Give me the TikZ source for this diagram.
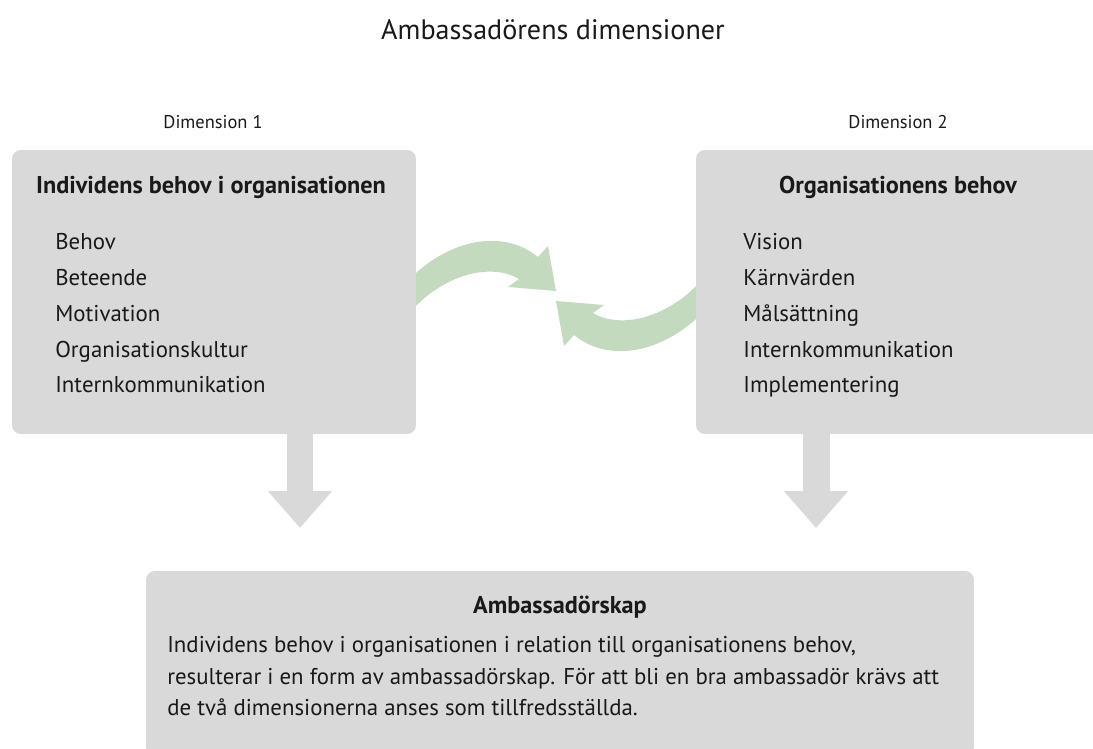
\documentclass[tikz,border=0pt]{standalone}
\usepackage{fontspec}
\setmainfont{PT Sans}
\usetikzlibrary{arrows.meta}

\definecolor{boxgray}{RGB}{217,217,217}
\definecolor{swirlgreen}{RGB}{196,218,190}

\begin{document}
\begin{tikzpicture}[x=0.02cm, y=-0.02cm,
      every node/.style = {inner sep=0pt, text=black!90},
      panel/.style = {fill=boxgray, rounded corners=5pt},
      heading/.style = {font=\fontsize{13.8}{16}\selectfont\bfseries},
      itemlist/.style = {align=left, anchor=north west,
        font=\fontsize{13}{20.4}\selectfont},
      downarrow/.style = {draw=boxgray, line width=0.54cm,
        -{Triangle[width=1.24cm, length=0.74cm]}},
      swirl/.style = {fill=swirlgreen}]
  \useasboundingbox (0,0) rectangle (1093,749);

  \node (title) [font=\fontsize{16}{19}\selectfont] at (553,30) {Ambassadörens dimensioner};
  \node (dim1) [font=\fontsize{10.5}{12}\selectfont] at (213,122) {Dimension 1};
  \node (dim2) [font=\fontsize{10.5}{12}\selectfont] at (898,122) {Dimension 2};

  % the three grey panels
  \node (ind) [panel, minimum width=8.08cm, minimum height=5.68cm] at (214,292) {};
  \node (org) [panel, minimum width=8.14cm, minimum height=5.68cm] at (899.5,292) {};
  \node (amb) [panel, minimum width=16.56cm, minimum height=3.7cm] at (560,663.5) {};

  \node (indhead) [heading] at (211,187) {Individens behov i organisationen};
  \node (indlist) [itemlist] at (55,233)
    {Behov\\Beteende\\Motivation\\Organisationskultur\\Internkommunikation};

  \node (orghead) [heading] at (898,187) {Organisationens behov};
  \node (orglist) [itemlist] at (743,233)
    {Vision\\Kärnvärden\\Målsättning\\Internkommunikation\\Implementering};

  \node (ambhead) [heading] at (560,607) {Ambassadörskap};
  \node (ambtext) [itemlist, font=\fontsize{13}{18}\selectfont] at (167,636)
    {Individens behov i organisationen i relation till organisationens behov,\\
     resulterar i en form av ambassadörskap. För att bli en bra ambassadör krävs att\\
     de två dimensionerna anses som tillfredsställda.};

  % both dimensions lead down to the bottom panel
  \coordinate (indtip) at (300,528);
  \coordinate (orgtip) at (816,528);
  \draw[downarrow] (ind.south -| indtip) -- (indtip);
  \draw[downarrow] (org.south -| orgtip) -- (orgtip);

  % exchange between the dimensions, second arrow turned half a turn
  \coordinate (swap) at (556,296);
  \fill[swirl] (416,273) .. controls (455,238) and (505,230) .. (538,257)
    -- (548,246) -- (556,291) -- (508,287) -- (519,279)
    .. controls (490,262) and (445,276) .. (416,306) -- cycle;
  \fill[swirl, rotate around={180:(swap)}] (416,273) .. controls (455,238) and (505,230) .. (538,257)
    -- (548,246) -- (556,291) -- (508,287) -- (519,279)
    .. controls (490,262) and (445,276) .. (416,306) -- cycle;
\end{tikzpicture}
\end{document}
